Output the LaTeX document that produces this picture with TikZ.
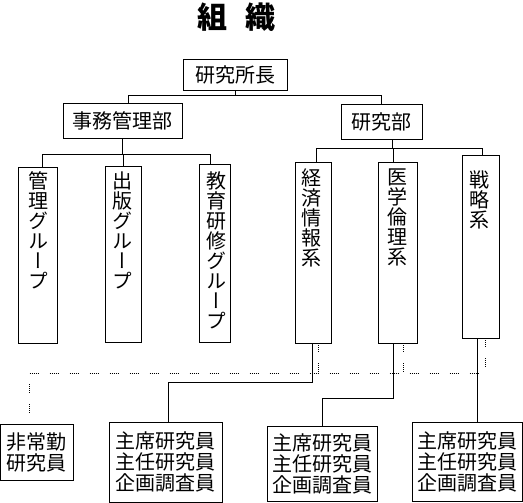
\documentclass[tikz,border=0pt]{standalone}
\usepackage{fontspec}
\setmainfont{Noto Sans CJK JP}
\newfontfamily\vfont[RawFeature=+vert]{Noto Sans CJK JP}
\usetikzlibrary{calc}
\begin{document}
\begin{tikzpicture}[x=1pt,y=-1pt,line width=0.8pt,
  box/.style={draw,inner sep=0pt,align=center,font=\fontsize{20}{21}\selectfont},
  vbox/.style={draw,inner sep=0pt},
  vtext/.style={inner sep=0pt,anchor=north,align=center,font=\vfont\fontsize{20}{20}\selectfont},
  dots/.style={line width=0.8pt,dash pattern=on 1pt off 1pt on 1pt off 1pt on 1pt off 1pt on 1pt off 1pt on 1pt off 11pt}]
\useasboundingbox (0,0) rectangle (523,503);
% title
\node[font=\fontsize{30}{30}\selectfont\bfseries] (title) at (236,17) {組\hspace{18pt}織};
% top boxes
\node[box,minimum width=104pt,minimum height=31pt] (chief) at (235,74.5) {研究所長};
\node[box,minimum width=119pt,minimum height=35pt] (jimu) at (122.5,120.5) {事務管理部};
\node[box,minimum width=81pt,minimum height=35pt] (kenkyu) at (381.5,121.5) {研究部};
% vertical boxes
\node[vbox,minimum width=39pt,minimum height=176pt] (kanri) at (37.5,255) {};
\node[vbox,minimum width=36pt,minimum height=176pt] (shuppan) at (123,254) {};
\node[vbox,minimum width=31pt,minimum height=178pt] (kyoiku) at (214.5,253) {};
\node[vbox,minimum width=36pt,minimum height=181pt] (keizai) at (313,252.5) {};
\node[vbox,minimum width=39pt,minimum height=181pt] (igaku) at (397.5,252.5) {};
\node[vbox,minimum width=37pt,minimum height=183pt] (senryaku) at (480.5,246.5) {};
\node[vtext] (kanriT) at (38.5,171) {管\\理\\グ\\ル\\ー\\プ};
\node[vtext] (shuppanT) at (122,171) {出\\版\\グ\\ル\\ー\\プ};
\node[vtext] (kyoikuT) at (216,171) {教\\育\\研\\修\\グ\\ル\\ー\\プ};
\node[vtext] (keizaiT) at (311,168) {経\\済\\情\\報\\系};
\node[vtext] (igakuT) at (397,168) {医\\学\\倫\\理\\系};
\node[vtext] (senryakuT) at (479,170) {戦\\略\\系};
% bottom boxes
\node[box,minimum width=73pt,minimum height=56pt] (hijokin) at (36.7,452) {非常勤\\研究員};
\node[box,minimum width=113pt,minimum height=80pt] (r1) at (165.5,462) {主席研究員\\主任研究員\\企画調査員};
\node[box,minimum width=110pt,minimum height=75pt] (r2) at (322,463.5) {主席研究員\\主任研究員\\企画調査員};
\node[box,minimum width=110pt,minimum height=79pt] (r3) at (467,461.5) {主席研究員\\主任研究員\\企画調査員};
% connectors top
\coordinate (bus1) at (0,95);
\coordinate (bus2) at (0,154);
\coordinate (bus3) at (0,148);
\coordinate (dbus) at (0,373);
\coordinate (jmT) at ($(jimu.north)+(5.5,0)$);
\draw (chief.south) -- (chief.south |- bus1);
\draw (jmT) |- (kenkyu.north |- bus1) -- (kenkyu.north);
\coordinate (knT) at ($(kanri.north)+(4.5,0)$);
\coordinate (kyT) at ($(kyoiku.north)+(-4.5,0)$);
\draw (jimu.south) -- (jimu.south |- bus2);
\draw (knT) |- (kyT |- bus2) -- (kyT);
\draw (shuppan.north) -- (shuppan.north |- bus2);
\coordinate (kkB) at ($(kenkyu.south)+(10.5,0)$);
\coordinate (kzT) at ($(keizai.north)+(3,0)$);
\coordinate (srT) at ($(senryaku.north)+(1.5,0)$);
\coordinate (igT) at ($(igaku.north)+(-4.5,0)$);
\draw (kkB) -- (kkB |- bus3);
\draw (kzT) |- (srT |- bus3) -- (srT);
\draw (igT) -- (igT |- bus3);
% connectors bottom (solid)
\coordinate (kzB) at ($(keizai.south)+(-1,0)$);
\coordinate (r1T) at ($(r1.north)+(2.5,0)$);
\draw (kzB) -- ++(0,39) -| (r1T);
\coordinate (igB) at ($(igaku.south)+(-4.5,0)$);
\draw (igB) -- ++(0,55) -| (r2.north);
\coordinate (srB) at ($(senryaku.south)+(-3.5,0)$);
\draw (srB) -- (srB |- r3.north);
% dotted
\coordinate (kzD) at ($(keizai.south)+(5,0)$);
\coordinate (igD) at ($(igaku.south)+(5.5,0)$);
\coordinate (srD) at ($(senryaku.south)+(4.5,0)$);
\coordinate (hjD) at ($(hijokin.north)+(-7.5,-11)$);
\draw[dots] (kzD) -- (kzD |- dbus);
\draw[dots] (igD) -- (igD |- dbus);
\draw[dots] (srD) -- (srD |- dbus);
\draw[dots] (hjD) -- (hjD |- dbus) -- (srD |- dbus);
\end{tikzpicture}
\end{document}
